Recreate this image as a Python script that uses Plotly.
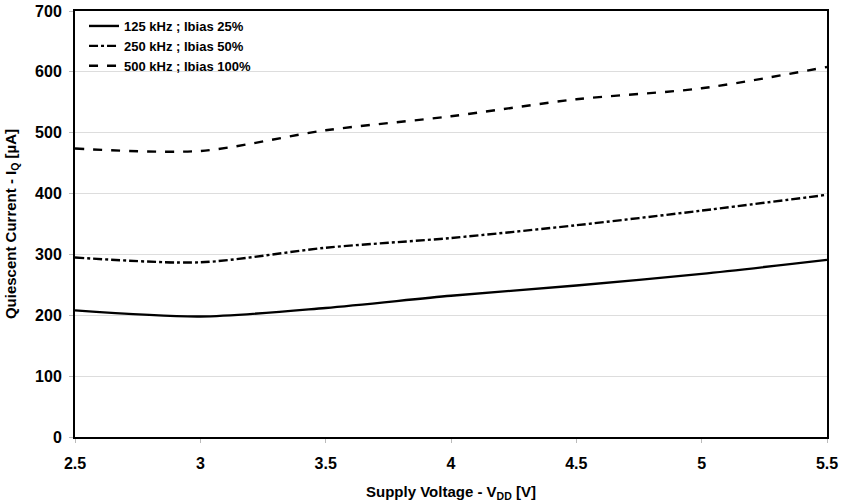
import plotly.graph_objects as go

# supply voltage (V)
vdd = [2.5, 3.0, 3.5, 4.0, 4.5, 5.0, 5.5]

# quiescent current (uA) per setting
iq_125k = [208, 198, 212, 232, 249, 268, 291]
iq_250k = [295, 287, 311, 327, 348, 372, 398]
iq_500k = [474, 470, 504, 527, 555, 573, 608]

names = ["<b>125 kHz ; Ibias 25%</b>", "<b>250 kHz ; Ibias 50%</b>", "<b>500 kHz ; Ibias 100%</b>"]
dashes = ["solid", "dashdot", "dash"]

fig = go.Figure()
for name, ys, d in zip(names, [iq_125k, iq_250k, iq_500k], dashes):
    fig.add_trace(go.Scatter(
        x=vdd, y=ys, name=name, mode="lines",
        line=dict(color="black", width=2.4, dash=d, shape="spline", smoothing=0.8),
    ))

tickf = dict(family="Liberation Sans, Arial", size=16, color="black")
titlef = dict(family="Liberation Sans, Arial", size=15, color="black")

fig.update_layout(
    width=841, height=502,
    margin=dict(l=75, r=14, t=11, b=65, autoexpand=False),
    paper_bgcolor="white", plot_bgcolor="white",
    font=dict(family="Liberation Sans, Arial", color="black"),
    showlegend=True,
    legend=dict(
        x=0.012, y=1.0, xanchor="left", yanchor="top",
        bgcolor="rgba(0,0,0,0)", font=dict(family="Liberation Sans, Arial", size=13, color="black"),
        itemwidth=30, tracegroupgap=0,
    ),
)

fig.update_xaxes(
    range=[2.5, 5.5], tickvals=vdd,
    ticktext=["<b>%g</b>" % v for v in vdd],
    showgrid=False, ticks="outside", ticklen=4, tickcolor="#bbbbbb",
    showline=True, linecolor="black", linewidth=2, mirror=True,
    tickfont=tickf, automargin=False, ticklabelstandoff=7,
    title=dict(text="<b>Supply Voltage - V<sub>DD</sub> [V]</b>", font=titlef),
)
yt = [0, 100, 200, 300, 400, 500, 600, 700]
fig.update_yaxes(
    range=[0, 700], tickvals=yt, ticktext=["<b>%d</b>" % v for v in yt],
    showgrid=True, gridcolor="#dddddd", gridwidth=1,
    ticks="outside", ticklen=4, tickcolor="#bbbbbb",
    showline=True, linecolor="black", linewidth=2, mirror=True,
    tickfont=tickf, zeroline=False, automargin=False, ticklabelstandoff=4,
    title=dict(text="<b>Quiescent Current - I<sub>Q</sub> [µA]</b>", font=titlef),
)

# page has a default 8px body margin; drop it so the figure sits at the corner
fig.write_html("out.html", config={"displayModeBar": False},
               post_script="document.body.style.margin='0';")
